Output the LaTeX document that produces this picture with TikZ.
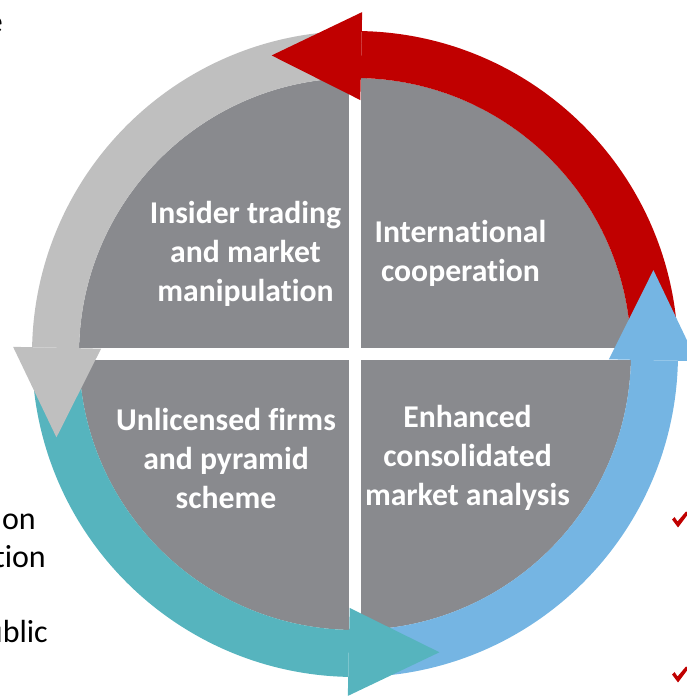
\documentclass[tikz,border=0pt]{standalone}
\usepackage{fontspec}
\setmainfont{Carlito}[Ligatures=NoCommon]
\definecolor{discgray}{RGB}{137,138,142}
\definecolor{arrgray}{RGB}{191,191,191}
\definecolor{arrred}{RGB}{192,0,0}
\definecolor{arrteal}{RGB}{86,180,190}
\definecolor{arrblue}{RGB}{117,181,227}
\newcommand\ringbody[3]{\fill[#1] (#2:323) arc[start angle=#2,end angle=#3,radius=323] -- (#3:276) arc[start angle=#3,end angle=#2,radius=276] -- cycle;}
\newcommand\ringhead[3]{\fill[#1] (#2:254) -- (#2:342) -- (#3:310) -- cycle;}
\tikzset{
  quadtext/.style={anchor=base,inner sep=0pt,text=white,font=\fontsize{31.7}{39}\selectfont\bfseries},
  sidetext/.style={anchor=base east,inner sep=0pt,text=black,font=\fontsize{32}{38}\selectfont},
  tick/.style={fill=arrred}
}
\begin{document}
\begin{tikzpicture}[x=1pt,y=1pt]
\useasboundingbox (0,0) rectangle (687,696);
\clip (0,0) rectangle (687,696);
\begin{scope}[shift={(355,342)}]
  \fill[discgray] (0,0) circle[radius=276];
  \fill[white] (-280,-6) rectangle (280,6);
  \fill[white] (-6,-280) rectangle (6,280);
  % arrow bodies
  \ringbody{arrred}{3}{88.8}
  \ringbody{arrgray}{93}{178.8}
  \ringbody{arrteal}{183}{268.8}
  \ringbody{arrblue}{273}{358.8}
  % arrow heads
  \ringhead{arrred}{88.8}{105.6}
  \ringhead{arrgray}{178.8}{195.6}
  \ringhead{arrteal}{268.8}{285.8}
  \ringhead{arrblue}{-1.2}{15.7}
\end{scope}
\node[quadtext] (ins) at (245.5,472) {\begin{tabular}[t]{@{}c@{}}Insider trading\\and market\\manipulation\end{tabular}};
\node[quadtext] (intl) at (460.5,453) {\begin{tabular}[t]{@{}c@{}}International\\cooperation\end{tabular}};
\node[quadtext] (unl) at (226,265) {\begin{tabular}[t]{@{}c@{}}Unlicensed firms\\and pyramid\\scheme\end{tabular}};
\node[quadtext] (enh) at (467.5,268) {\begin{tabular}[t]{@{}c@{}}Enhanced\\consolidated\\market analysis\end{tabular}};
% partial side text
\node[sidetext] (s0) at (3,663) {e};
\node[sidetext] (s1) at (36,166) {on};
\node[sidetext] (s2) at (46,128) {tion};
\node[sidetext] (s3) at (2,92) {n};
\node[sidetext] (s4) at (48,53) {ublic};
% check marks
\foreach \cy [count=\i] in {176,21}{
  \fill[tick] (680-8,\cy+0.5) -- (680-5.5,\cy+3) -- (680-2.5,\cy-1.5) -- (680+6,\cy+8.5) -- (680+8.5,\cy+6.5) -- (680-2,\cy-7.5) -- cycle;
}
\end{tikzpicture}
\end{document}
